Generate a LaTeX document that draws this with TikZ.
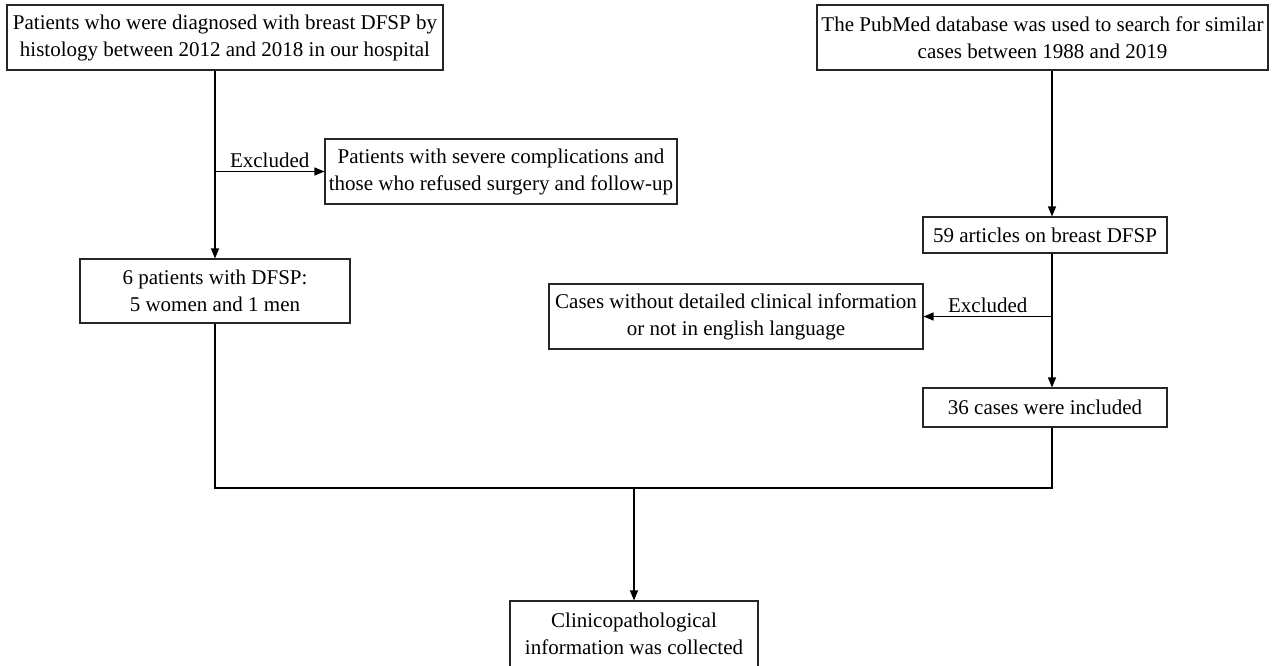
\documentclass[tikz,border=0pt]{standalone}
\usepackage{fontspec}
\setmainfont{Liberation Serif}
\usetikzlibrary{arrows.meta}
\begin{document}
\begin{tikzpicture}[x=1pt,y=-1pt,
  flowbox/.style={draw=black!85, line width=1.1pt, align=center, inner sep=0pt,
    font=\fontsize{21}{27}\selectfont},
  flowline/.style={line width=1.2pt, -{Triangle[length=10pt,width=8pt]}},
  plainline/.style={line width=1.2pt}]
\useasboundingbox (0,0) rectangle (1276,665);
\node[flowbox, minimum width=436pt, minimum height=65pt] (pat) at (225,37.5) {Patients who were diagnosed with breast DFSP by\\histology between 2012 and 2018 in our hospital};
\node[flowbox, minimum width=451pt, minimum height=65pt] (pub) at (1042.5,37.5) {The PubMed database was used to search for similar\\cases between 1988 and 2019};
\node[flowbox, minimum width=352pt, minimum height=65pt] (exa) at (501,171.5) {Patients with severe complications and\\those who refused surgery and follow-up};
\node[flowbox, minimum width=270pt, minimum height=64pt] (six) at (215,291) {6 patients with DFSP:\\5 women and 1 men};
\node[flowbox, minimum width=244pt, minimum height=36pt] (art) at (1045,235) {59 articles on breast DFSP};
\node[flowbox, minimum width=374pt, minimum height=65pt] (exb) at (736,316.5) {Cases without detailed clinical information\\or not in english language};
\node[flowbox, minimum width=244pt, minimum height=39pt] (inc) at (1045,407.5) {36 cases were included};
\node[flowbox, minimum width=248pt, minimum height=66pt] (info) at (634,634) {Clinicopathological\\information was collected};
\coordinate (rx) at (1052,0);
\coordinate (join) at (634,488);
% left branch
\draw[flowline] (pat.south -| six.north) -- (six.north);
\draw[flowline] (exa.west -| six.north) -- node[above, font=\fontsize{21}{27}\selectfont] {Excluded} (exa.west);
% right branch
\draw[flowline] (pub.south -| rx) -- (art.north -| rx);
\draw[flowline] (art.south -| rx) -- (inc.north -| rx);
\draw[flowline] (exb.east -| rx) -- node[above, font=\fontsize{21}{27}\selectfont] {Excluded} (exb.east);
% merge
\draw[plainline] (six.south) -- (join -| six.south) -- (join -| rx) -- (inc.south -| rx);
\draw[flowline] (join) -- (info.north);
\end{tikzpicture}
\end{document}
